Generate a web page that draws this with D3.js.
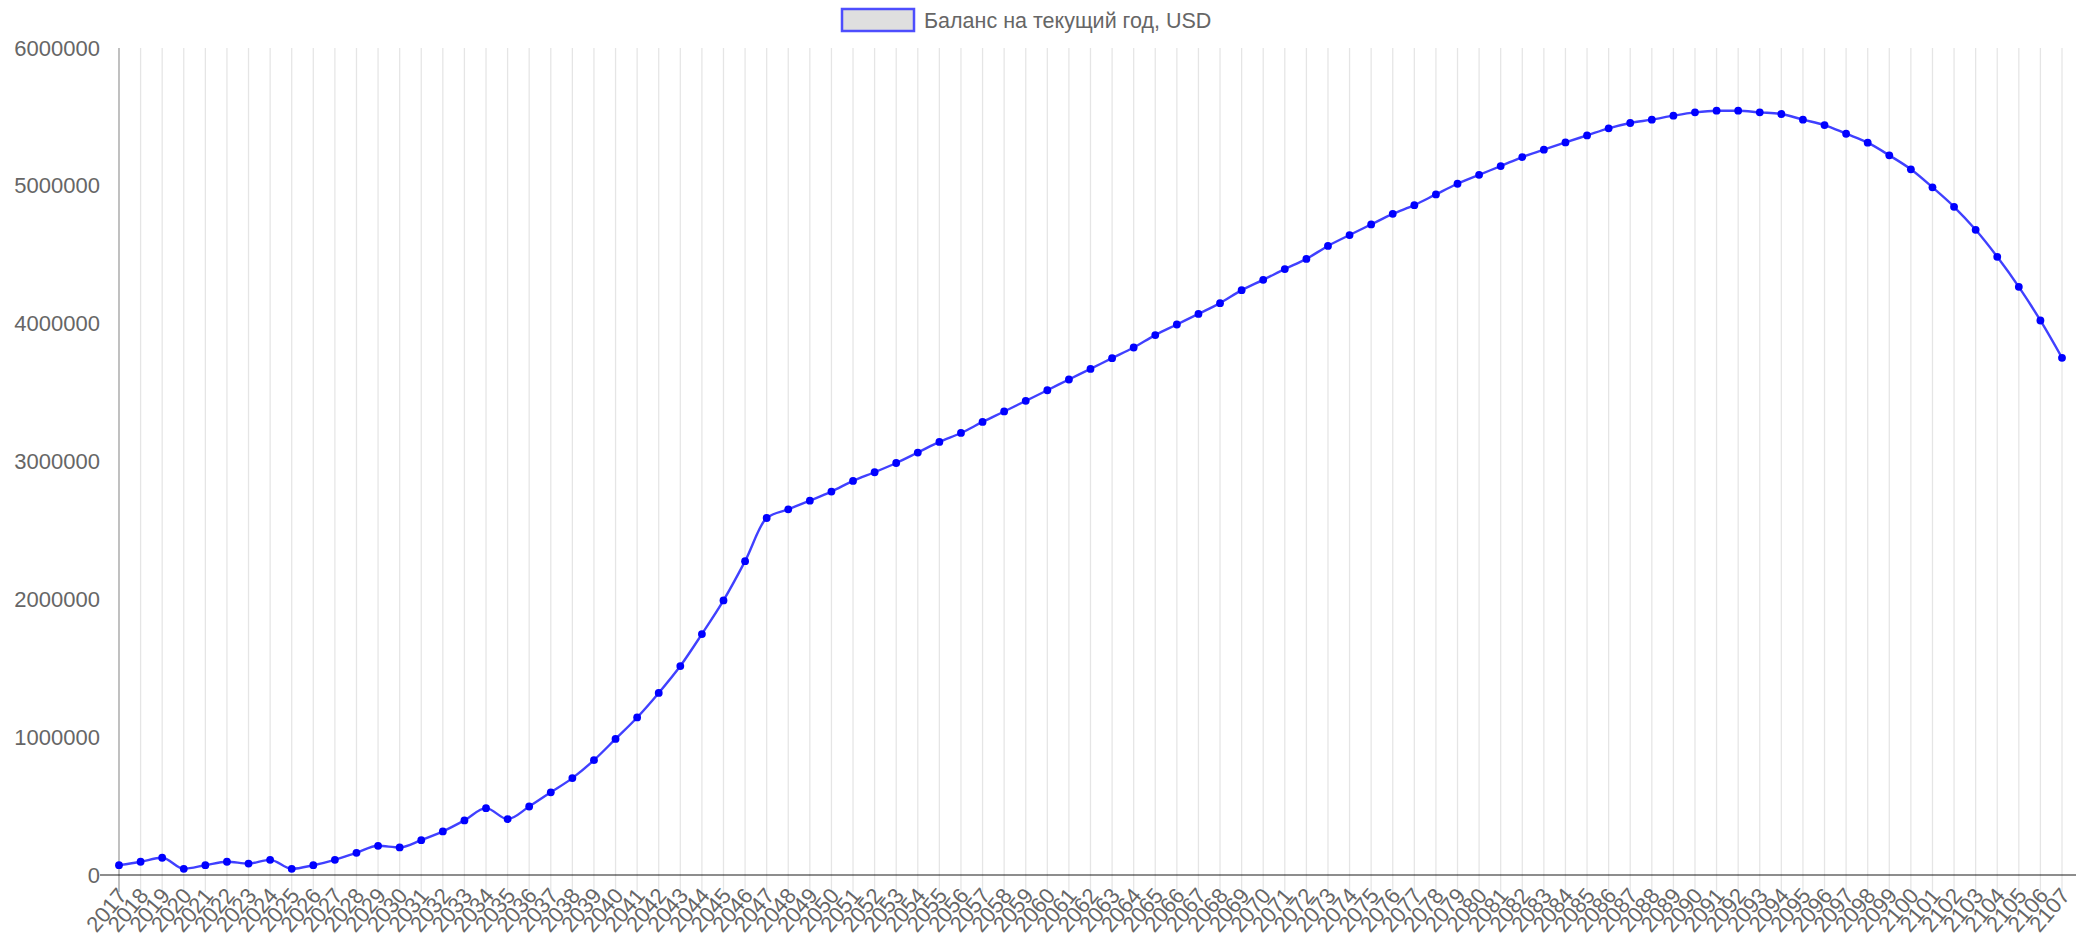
<!DOCTYPE html>
<html>
<head>
<meta charset="utf-8">
<script src="https://cdn.jsdelivr.net/npm/d3@7/dist/d3.min.js"></script>
<style>
  html, body { margin: 0; padding: 0; background: #fff; }
  svg { display: block; }
  text { font-family: "Liberation Sans", Arial, Helvetica, sans-serif; fill: #666; }
</style>
</head>
<body>
<svg id="chart" width="2082" height="939"></svg>
<script>
const seriesName = "Баланс на текущий год, USD";
const years = d3.range(2017, 2108).map(String);
const balance = [
  71000, 96000, 125000, 45000, 71000, 96000, 83000, 110000, 45000, 71000,
  110000, 161000, 212000, 200000, 253000, 316000, 396000, 485000, 406000, 497000,
  600000, 703000, 833000, 987000, 1143000, 1321000, 1516000, 1748000, 1992000, 2277000,
  2590000, 2653000, 2716000, 2782000, 2859000, 2922000, 2989000, 3065000, 3142000, 3207000,
  3287000, 3363000, 3440000, 3517000, 3595000, 3672000, 3750000, 3827000, 3917000, 3994000,
  4071000, 4149000, 4243000, 4318000, 4396000, 4470000, 4564000, 4643000, 4720000, 4797000,
  4860000, 4938000, 5015000, 5080000, 5143000, 5209000, 5262000, 5315000, 5366000, 5417000,
  5456000, 5480000, 5509000, 5533000, 5545000, 5545000, 5533000, 5521000, 5480000, 5441000,
  5378000, 5313000, 5221000, 5120000, 4989000, 4848000, 4681000, 4485000, 4267000, 4023000,
  3752000
];
const yTicks = [0, 1000000, 2000000, 3000000, 4000000, 5000000, 6000000];

const svg = d3.select("#chart");
const pLeft = 119, pRight = 2062, pTop = 48, pBottom = 875;

const x = d3.scalePoint().domain(years).range([pLeft, pRight]);
const y = d3.scaleLinear().domain([0, 6000000]).range([pBottom, pTop]);

// vertical grid lines
svg.append("g").selectAll("line").data(years).join("line")
  .attr("x1", d => x(d)).attr("x2", d => x(d))
  .attr("y1", pTop).attr("y2", pBottom + 17)
  .attr("stroke", "rgba(0,0,0,0.1)").attr("stroke-width", 1.3);

// y axis line
svg.append("line").attr("x1", pLeft).attr("x2", pLeft)
  .attr("y1", pTop).attr("y2", pBottom + 17)
  .attr("stroke", "rgba(0,0,0,0.3)").attr("stroke-width", 1.3);

// zero line
svg.append("line").attr("x1", pLeft - 19).attr("x2", pRight + 14)
  .attr("y1", y(0)).attr("y2", y(0))
  .attr("stroke", "rgba(0,0,0,0.6)").attr("stroke-width", 1.5);

// y tick labels
svg.append("g").selectAll("text").data(yTicks).join("text")
  .attr("x", pLeft - 19).attr("y", d => y(d))
  .attr("text-anchor", "end").attr("dominant-baseline", "central")
  .attr("font-size", 22)
  .text(d => d3.format("d")(d));

// x tick labels
svg.append("g").selectAll("text").data(years).join("text")
  .attr("text-anchor", "end")
  .attr("font-size", 22)
  .attr("transform", d => `translate(${x(d) + 9},${pBottom + 21}) rotate(-50)`)
  .text(d => d);

// line
const line = d3.line().x((d, i) => x(years[i])).y(d => y(d)).curve(d3.curveMonotoneX);
svg.append("path").datum(balance)
  .attr("d", line).attr("fill", "none")
  .attr("stroke", "rgba(0,0,255,0.75)").attr("stroke-width", 2.4);

svg.append("g").selectAll("circle").data(balance).join("circle")
  .attr("cx", (d, i) => x(years[i])).attr("cy", d => y(d)).attr("r", 3.9)
  .attr("fill", "#0000ff");

// legend
const lg = svg.append("g");
lg.append("rect").attr("x", 842).attr("y", 9).attr("width", 72).attr("height", 22)
  .attr("fill", "rgba(220,220,220,0.9)").attr("stroke", "rgba(60,60,255,0.9)").attr("stroke-width", 2.5);
lg.append("text").attr("x", 924).attr("y", 21).attr("dominant-baseline", "central")
  .attr("font-size", 21.5).text(seriesName);
</script>
</body>
</html>
